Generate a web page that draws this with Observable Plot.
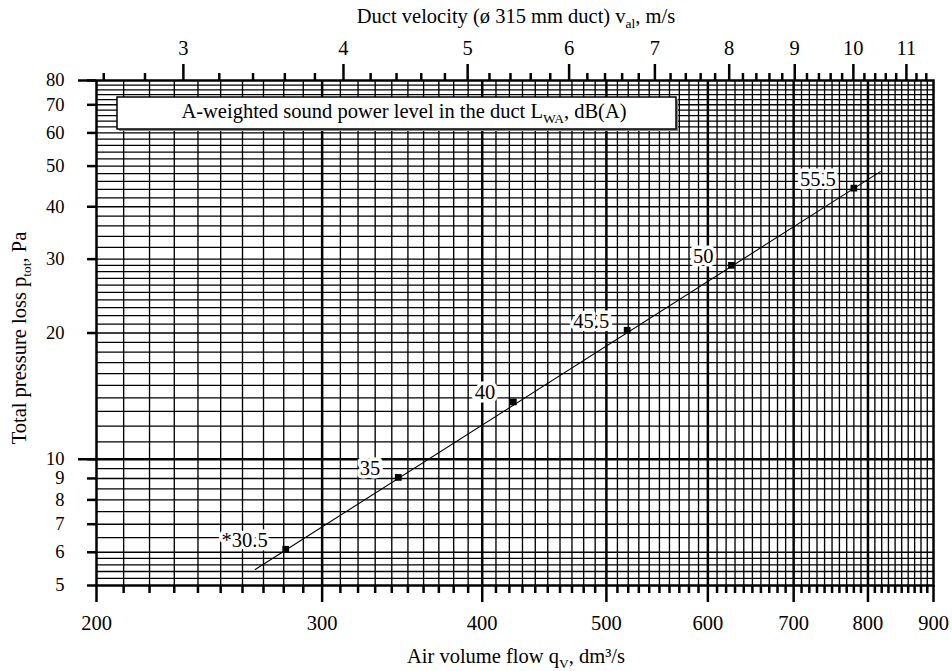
<!DOCTYPE html>
<html>
<head>
<meta charset="utf-8">
<script src="https://cdn.jsdelivr.net/npm/d3@7"></script>
<script src="https://cdn.jsdelivr.net/npm/@observablehq/plot@0.6"></script>
<style>
  body { margin: 0; background: #fff; }
  #chart svg, #chart svg text { font-family: "Liberation Serif", "DejaVu Serif", serif !important; }
</style>
</head>
<body>
<div id="chart"></div>
<script>
// ---- data ----
const flowTicks = [200, 300, 400, 500, 600, 700, 800, 900];          // dm³/s
const pressureTicks = [5, 6, 7, 8, 9, 10, 20, 30, 40, 50, 60, 70, 80]; // Pa
const velocityTicks = [3, 4, 5, 6, 7, 8, 9, 10, 11];                 // m/s
const minorPressure = [5.2, 5.4, 5.6, 5.8, 6.5, 7.5, 8.5, 9.5,
  11, 12, 13, 14, 15, 16, 17, 18, 19, 21, 22, 23, 24, 25, 26, 27, 28, 29,
  32, 34, 36, 38, 42, 44, 46, 48, 52, 54, 56, 58, 62, 64, 66, 68, 72, 74, 76, 78];

const flows = [281, 344, 423, 519, 626, 780];
const pressures = [6.1, 9.05, 13.7, 20.3, 29.0, 44.3];
const levels = ["*30.5", "35", "40", "45.5", "50", "55.5"];

const fitFlow = [266, 818];
const fitPressure = [5.46, 48.5];

// ø 315 mm duct: flow (dm³/s) per 1 m/s
const DUCT = Math.PI * 0.315 * 0.315 / 4 * 1000;

const minorFlow = d3.range(210, 900, 10).filter(v => v % 100 !== 0);
const minorVelocity = d3.range(13, 58).filter(i => i % 5 !== 0).map(i => i / 5);

const points = flows.map((q, i) => ({q, p: pressures[i], label: levels[i]}));
const fit = fitFlow.map((q, i) => ({q, p: fitPressure[i]}));

const TW = 2.5;
const FS = 20.5;
const plot = Plot.plot({
  width: 952,
  height: 671,
  marginLeft: 96,
  marginRight: 19,
  marginTop: 80,
  marginBottom: 86,
  style: {fontFamily: "Liberation Serif", fontSize: FS + "px", background: "white", color: "black"},
  x: {type: "log", domain: [200, 900], axis: null},
  y: {type: "log", domain: [5, 80], axis: null},
  marks: [
    Plot.gridX(minorFlow, {stroke: "black", strokeOpacity: 1, strokeWidth: 1.35}),
    Plot.gridX(flowTicks.slice(1, -1), {stroke: "black", strokeOpacity: 1, strokeWidth: 2.5}),
    Plot.gridY(minorPressure, {stroke: "black", strokeOpacity: 1, strokeWidth: 1.3}),
    Plot.gridY(pressureTicks.filter(v => v !== 5 && v !== 10 && v !== 80), {stroke: "black", strokeOpacity: 1, strokeWidth: 1.4}),
    Plot.gridY([10], {stroke: "black", strokeOpacity: 1, strokeWidth: 2.5}),
    Plot.frame({stroke: "black", strokeWidth: TW}),
    // bottom axis
    Plot.axisX(flowTicks, {anchor: "bottom", tickSize: 17, tickPadding: 13, strokeWidth: TW, label: null, tickFormat: d => String(d), fontSize: FS}),
    Plot.axisX(minorFlow, {anchor: "bottom", tickSize: 8, strokeWidth: TW, label: null, fill: "none"}),
    // top axis (duct velocity)
    Plot.axisX(velocityTicks.map(v => v * DUCT), {anchor: "top", tickSize: 17, tickPadding: 9, strokeWidth: TW, label: null, tickFormat: d => String(Math.round(d / DUCT)), fontSize: FS}),
    Plot.axisX(minorVelocity.map(v => v * DUCT), {anchor: "top", tickSize: 8, strokeWidth: TW, label: null, fill: "none"}),
    // left axis
    Plot.axisY(pressureTicks, {anchor: "left", tickSize: 9, tickPadding: 23, strokeWidth: TW, label: null, tickFormat: d => String(d), fontSize: 18.5}),
    Plot.axisY([10, 80], {anchor: "left", tickSize: 18, strokeWidth: TW, label: null, fill: "none"}),
    // data
    Plot.line(fit, {x: "q", y: "p", stroke: "black", strokeWidth: 1.1}),
    Plot.dot(points, {x: "q", y: "p", symbol: "square", r: 3.8, fill: "black"}),
    Plot.text(points, {x: "q", y: "p", text: "label", textAnchor: "end", dx: -18, dy: -9,
      fill: "black", stroke: "white", strokeWidth: 7, fontSize: FS})
  ]
});

document.getElementById("chart").appendChild(plot);

// ---- titles and legend box (layout) ----
const svg = d3.select(plot);
const font = "Liberation Serif";
const SUB = 13.5;

function titled(x, y, pre, sub, post, transform) {
  const t = svg.append("text").attr("text-anchor", "middle")
    .attr("font-family", font).attr("font-size", FS).attr("fill", "black");
  if (transform) t.attr("transform", transform); else t.attr("x", x).attr("y", y);
  t.append("tspan").text(pre);
  t.append("tspan").text(sub).attr("font-size", SUB).attr("dy", 4.5);
  t.append("tspan").text(post).attr("dy", -4.5);
  return t;
}

// legend box
svg.append("rect").attr("x", 119).attr("y", 99).attr("width", 559).attr("height", 32).attr("fill", "#888");
svg.append("rect").attr("x", 117).attr("y", 97).attr("width", 559).attr("height", 32)
  .attr("fill", "white").attr("stroke", "black").attr("stroke-width", 1.5);
titled(404, 118, "A-weighted sound power level in the duct L", "WA", ", dB(A)");

titled(516, 23, "Duct velocity (ø 315 mm duct) v", "al", ", m/s");
titled(516, 663, "Air volume flow q", "V", ", dm³/s");
titled(0, 0, "Total pressure loss p", "tot", ", Pa", "translate(26,338) rotate(-90)");
</script>
</body>
</html>
